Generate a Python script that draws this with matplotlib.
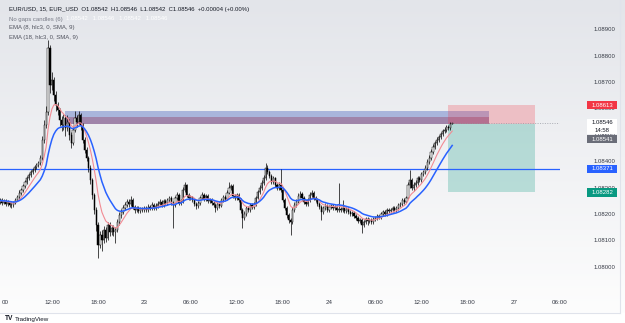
import numpy as np
import pandas as pd
import matplotlib
matplotlib.use("Agg")
import matplotlib.pyplot as plt
import matplotlib.transforms as mtransforms
from matplotlib.patches import Rectangle
from matplotlib.colors import LinearSegmentedColormap

plt.rcParams['font.family'] = ['Liberation Sans', 'DejaVu Sans']

# 15 minute candles, bar 0 = 22nd 06:00
first_bar = -3
first_open = 1.08246
closes = [
    1.08253, 1.08242, 1.08249, 1.08238, 1.08246, 1.08234, 1.08234, 1.08242, 1.08253, 1.08264,
    1.08280, 1.08291, 1.08306, 1.08321, 1.08336, 1.08348, 1.08359, 1.08367, 1.08378, 1.08386,
    1.08393, 1.08412, 1.08481, 1.08538, 1.08587, 1.08829, 1.08689, 1.08708, 1.08651, 1.08613,
    1.08594, 1.08556, 1.08538, 1.08564, 1.08526, 1.08549, 1.08500, 1.08469, 1.08519, 1.08564,
    1.08549, 1.08575, 1.08538, 1.08481, 1.08443, 1.08412, 1.08374, 1.08329, 1.08272, 1.08215,
    1.08158, 1.08082, 1.08120, 1.08101, 1.08139, 1.08109, 1.08158, 1.08132, 1.08147, 1.08132,
    1.08139, 1.08170, 1.08196, 1.08208, 1.08223, 1.08234, 1.08246, 1.08238, 1.08253, 1.08227,
    1.08215, 1.08223, 1.08211, 1.08219, 1.08215, 1.08223, 1.08215, 1.08227, 1.08223, 1.08234,
    1.08223, 1.08230, 1.08238, 1.08246, 1.08234, 1.08249, 1.08242, 1.08253, 1.08261, 1.08242,
    1.08234, 1.08261, 1.08272, 1.08242, 1.08249, 1.08291, 1.08310, 1.08272, 1.08261, 1.08264,
    1.08253, 1.08238, 1.08230, 1.08242, 1.08261, 1.08272, 1.08257, 1.08268, 1.08249, 1.08253,
    1.08242, 1.08234, 1.08223, 1.08238, 1.08230, 1.08253, 1.08264, 1.08257, 1.08280, 1.08298,
    1.08306, 1.08268, 1.08261, 1.08272, 1.08253, 1.08215, 1.08185, 1.08200, 1.08223, 1.08215,
    1.08234, 1.08227, 1.08238, 1.08261, 1.08283, 1.08298, 1.08318, 1.08336, 1.08374, 1.08359,
    1.08344, 1.08321, 1.08336, 1.08310, 1.08298, 1.08310, 1.08291, 1.08253, 1.08223, 1.08196,
    1.08177, 1.08170, 1.08215, 1.08234, 1.08246, 1.08268, 1.08276, 1.08261, 1.08246, 1.08238,
    1.08253, 1.08272, 1.08280, 1.08261, 1.08253, 1.08238, 1.08227, 1.08208, 1.08223, 1.08230,
    1.08215, 1.08227, 1.08230, 1.08223, 1.08227, 1.08215, 1.08219, 1.08215, 1.08223, 1.08211,
    1.08219, 1.08208, 1.08200, 1.08204, 1.08192, 1.08185, 1.08173, 1.08177, 1.08158, 1.08170,
    1.08181, 1.08173, 1.08177, 1.08170, 1.08181, 1.08185, 1.08192, 1.08189, 1.08200, 1.08208,
    1.08200, 1.08215, 1.08211, 1.08215, 1.08223, 1.08215, 1.08223, 1.08234, 1.08238, 1.08253,
    1.08246, 1.08261, 1.08310, 1.08329, 1.08298, 1.08310, 1.08318, 1.08336, 1.08329, 1.08352,
    1.08359, 1.08374, 1.08397, 1.08412, 1.08435, 1.08454, 1.08469, 1.08481, 1.08492, 1.08503,
    1.08515, 1.08519, 1.08530, 1.08526, 1.08542, 1.08546,
]
highs = [
    1.08262, 1.08260, 1.08257, 1.08255, 1.08253, 1.08250, 1.08244, 1.08250, 1.08261, 1.08272,
    1.08290, 1.08300, 1.08315, 1.08330, 1.08345, 1.08356, 1.08367, 1.08376, 1.08386, 1.08395,
    1.08402, 1.08424, 1.08496, 1.08556, 1.08610, 1.08859, 1.08840, 1.08740, 1.08720, 1.08665,
    1.08625, 1.08602, 1.08570, 1.08580, 1.08575, 1.08575, 1.08560, 1.08510, 1.08530, 1.08590,
    1.08575, 1.08590, 1.08583, 1.08545, 1.08490, 1.08452, 1.08420, 1.08385, 1.08337, 1.08280,
    1.08225, 1.08168, 1.08135, 1.08140, 1.08155, 1.08150, 1.08170, 1.08168, 1.08160, 1.08158,
    1.08150, 1.08180, 1.08206, 1.08220, 1.08235, 1.08245, 1.08258, 1.08255, 1.08268, 1.08260,
    1.08235, 1.08232, 1.08230, 1.08228, 1.08226, 1.08232, 1.08230, 1.08236, 1.08235, 1.08244,
    1.08242, 1.08240, 1.08248, 1.08256, 1.08254, 1.08258, 1.08257, 1.08262, 1.08270, 1.08268,
    1.08250, 1.08270, 1.08282, 1.08280, 1.08258, 1.08302, 1.08321, 1.08315, 1.08280, 1.08272,
    1.08270, 1.08260, 1.08245, 1.08250, 1.08270, 1.08282, 1.08278, 1.08276, 1.08274, 1.08262,
    1.08260, 1.08250, 1.08240, 1.08246, 1.08245, 1.08262, 1.08273, 1.08272, 1.08290, 1.08321,
    1.08315, 1.08312, 1.08275, 1.08280, 1.08278, 1.08260, 1.08222, 1.08210, 1.08232, 1.08230,
    1.08242, 1.08240, 1.08246, 1.08270, 1.08292, 1.08308, 1.08327, 1.08346, 1.08393, 1.08385,
    1.08366, 1.08350, 1.08345, 1.08342, 1.08318, 1.08320, 1.08371, 1.08298, 1.08260, 1.08230,
    1.08205, 1.08185, 1.08225, 1.08244, 1.08255, 1.08278, 1.08286, 1.08284, 1.08268, 1.08254,
    1.08262, 1.08282, 1.08290, 1.08287, 1.08268, 1.08260, 1.08245, 1.08235, 1.08232, 1.08240,
    1.08238, 1.08235, 1.08238, 1.08237, 1.08235, 1.08234, 1.08318, 1.08228, 1.08253, 1.08230,
    1.08226, 1.08225, 1.08215, 1.08212, 1.08210, 1.08200, 1.08192, 1.08185, 1.08184, 1.08178,
    1.08190, 1.08188, 1.08186, 1.08184, 1.08190, 1.08193, 1.08200, 1.08198, 1.08208, 1.08216,
    1.08215, 1.08224, 1.08222, 1.08223, 1.08231, 1.08230, 1.08232, 1.08242, 1.08247, 1.08262,
    1.08260, 1.08270, 1.08322, 1.08367, 1.08336, 1.08320, 1.08328, 1.08345, 1.08344, 1.08360,
    1.08368, 1.08384, 1.08407, 1.08422, 1.08445, 1.08464, 1.08478, 1.08490, 1.08500, 1.08512,
    1.08523, 1.08528, 1.08538, 1.08537, 1.08550, 1.08546,
]
lows = [
    1.08238, 1.08234, 1.08236, 1.08230, 1.08232, 1.08226, 1.08222, 1.08228, 1.08238, 1.08248,
    1.08258, 1.08272, 1.08285, 1.08300, 1.08314, 1.08328, 1.08341, 1.08350, 1.08360, 1.08371,
    1.08378, 1.08386, 1.08405, 1.08470, 1.08525, 1.08575, 1.08660, 1.08670, 1.08630, 1.08590,
    1.08575, 1.08535, 1.08515, 1.08520, 1.08495, 1.08515, 1.08480, 1.08450, 1.08460, 1.08510,
    1.08530, 1.08540, 1.08520, 1.08470, 1.08430, 1.08400, 1.08360, 1.08315, 1.08255, 1.08200,
    1.08135, 1.08033, 1.08070, 1.08060, 1.08090, 1.08095, 1.08100, 1.08115, 1.08120, 1.08118,
    1.08090, 1.08130, 1.08160, 1.08185, 1.08200, 1.08215, 1.08228, 1.08228, 1.08230, 1.08218,
    1.08205, 1.08208, 1.08203, 1.08204, 1.08206, 1.08208, 1.08207, 1.08208, 1.08214, 1.08216,
    1.08214, 1.08215, 1.08222, 1.08230, 1.08226, 1.08227, 1.08234, 1.08235, 1.08245, 1.08234,
    1.08147, 1.08226, 1.08253, 1.08234, 1.08235, 1.08242, 1.08284, 1.08265, 1.08252, 1.08253,
    1.08245, 1.08229, 1.08220, 1.08224, 1.08235, 1.08255, 1.08250, 1.08250, 1.08242, 1.08243,
    1.08235, 1.08226, 1.08208, 1.08216, 1.08222, 1.08225, 1.08247, 1.08250, 1.08252, 1.08274,
    1.08290, 1.08262, 1.08252, 1.08254, 1.08245, 1.08205, 1.08147, 1.08178, 1.08194, 1.08207,
    1.08208, 1.08220, 1.08220, 1.08232, 1.08255, 1.08276, 1.08290, 1.08310, 1.08330, 1.08350,
    1.08336, 1.08312, 1.08314, 1.08302, 1.08290, 1.08292, 1.08284, 1.08245, 1.08214, 1.08186,
    1.08165, 1.08120, 1.08162, 1.08208, 1.08228, 1.08240, 1.08260, 1.08254, 1.08238, 1.08230,
    1.08232, 1.08246, 1.08265, 1.08254, 1.08245, 1.08230, 1.08218, 1.08177, 1.08200, 1.08216,
    1.08208, 1.08208, 1.08220, 1.08215, 1.08216, 1.08207, 1.08208, 1.08206, 1.08208, 1.08203,
    1.08204, 1.08200, 1.08192, 1.08193, 1.08184, 1.08176, 1.08165, 1.08166, 1.08128, 1.08150,
    1.08163, 1.08160, 1.08166, 1.08162, 1.08163, 1.08175, 1.08178, 1.08182, 1.08182, 1.08193,
    1.08192, 1.08194, 1.08203, 1.08204, 1.08208, 1.08207, 1.08208, 1.08216, 1.08227, 1.08230,
    1.08238, 1.08240, 1.08255, 1.08300, 1.08290, 1.08288, 1.08302, 1.08310, 1.08320, 1.08322,
    1.08344, 1.08352, 1.08367, 1.08390, 1.08405, 1.08428, 1.08446, 1.08462, 1.08474, 1.08485,
    1.08496, 1.08508, 1.08512, 1.08518, 1.08520, 1.08542,
]

# time axis: hours after the 22nd 06:00
tick_hours = [0, 6, 12, 18, 24, 30, 36, 42, 48, 54, 60, 66, 72]
tick_labels = ["00", "12:00", "18:00", "23", "06:00", "12:00", "18:00", "24",
               "06:00", "12:00", "18:00", "27", "06:00"]
price_ticks = [1.080, 1.081, 1.082, 1.083, 1.084, 1.085, 1.086, 1.087, 1.088, 1.089]

level = 1.08371
zone_top, zone_mid, zone_bottom = 1.08590, 1.08568, 1.08541
zone_bars = (31, 251)
entry, stop, target = 1.08541, 1.08613, 1.08282
pos_bars = (230, 275)
last_price = 1.08546
countdown = "14:58"

header = "EUR/USD, 15, EUR_USD  O1.08542  H1.08546  L1.08542  C1.08546  +0.00004 (+0.00%)"
ema_fast_label = "EMA (8, hlc3, 0, SMA, 9)"
ema_slow_label = "EMA (18, hlc3, 0, SMA, 9)"

# ---- derived series
n = len(closes)
x = np.arange(first_bar, first_bar + n)
c = np.array(closes)
h = np.array(highs)
l = np.array(lows)
o = np.concatenate([[first_open], c[:-1]])
hlc3 = pd.Series((h + l + c) / 3)
ema_fast = hlc3.ewm(span=8, adjust=False).mean()
ema_slow = hlc3.ewm(span=18, adjust=False).mean()

W, H = 625, 323
fig = plt.figure(figsize=(W / 100, H / 100), dpi=100)

# background gradient
bg = fig.add_axes([0, 0, 1, 1])
grad_cmap = LinearSegmentedColormap.from_list("g", ["#fdfdfd", "#e3e5ea"])
grad = np.linspace(0, 1, 256).reshape(-1, 1)
bg.imshow(grad, aspect='auto', cmap=grad_cmap, extent=[0, 1, (323 - 313) / 323, 1], origin='lower')
bg.set_xlim(0, 1)
bg.set_ylim(0, 1)
bg.axis('off')
# frame lines
bg.plot([620 / W, 620 / W], [(323 - 313) / 323, 1], color='#e0e3eb', lw=0.8)
bg.plot([0, 620 / W], [(323 - 313) / 323] * 2, color='#e0e3eb', lw=0.8)

pane_bottom = 285
ax = fig.add_axes([0, (H - pane_bottom) / H, 560 / W, pane_bottom / H])
ax.set_facecolor('none')
ymax = 1.09011
px = 0.0000379
ax.set_ylim(ymax - pane_bottom * px, ymax)
bar_px = 1.929
x0 = 5.7
ax.set_xlim(-x0 / bar_px, (560 - x0) / bar_px)
for s in ax.spines.values():
    s.set_visible(False)

# zone
zx0, zx1 = zone_bars
ax.add_patch(Rectangle((zx0, zone_bottom), zx1 - zx0, zone_top - zone_bottom,
                       facecolor='#a9b5dc', edgecolor='none', zorder=1))
ax.add_patch(Rectangle((zx0, zone_bottom), zx1 - zx0, zone_mid - zone_bottom,
                       facecolor='#a084aa', edgecolor='none', zorder=1.1))

# position tool
px0, px1 = pos_bars
ax.add_patch(Rectangle((px0, entry), px1 - px0, stop - entry,
                       facecolor='#f23645', alpha=0.25, edgecolor='none', zorder=1.2))
ax.add_patch(Rectangle((px0, target), px1 - px0, entry - target,
                       facecolor='#089981', alpha=0.25, edgecolor='none', zorder=1.2))

# level line
ax.axhline(level, color='#2962ff', lw=0.9, zorder=2)

# candles
up = c >= o
ax.vlines(x, l, h, color='#000000', lw=0.5, zorder=3)
body_lo = np.minimum(o, c)
body_h = np.maximum(np.abs(c - o), 0.000015)
ax.bar(x[up], body_h[up], bottom=body_lo[up], width=0.62, color='#ffffff',
       edgecolor='#000000', linewidth=0.35, zorder=4)
ax.bar(x[~up], body_h[~up], bottom=body_lo[~up], width=0.62, color='#000000',
       edgecolor='#000000', linewidth=0.35, zorder=4)

# emas
ax.plot(x, ema_fast, color='#f28b94', lw=0.8, zorder=5)
ax.plot(x, ema_slow, color='#2962ff', lw=1.1, zorder=5)

# last price dotted line
ax.plot([x[-1], ax.get_xlim()[1]], [last_price, last_price], color='#9598a1',
        lw=0.5, ls=(0, (1.5, 2)), zorder=2)

# pane bottom dotted line
ax.axhline(ax.get_ylim()[0], color='#d1d4dc', lw=0.6, ls=(0, (1, 1.5)))

# price axis
ax.yaxis.tick_right()
ax.set_yticks(price_ticks)
ax.set_yticklabels(["%.5f" % p for p in price_ticks])
ax.tick_params(axis='y', length=0, pad=23.8, labelsize=4.3, labelcolor='#363a45')

# time axis
ax.set_xticks([hr * 4 for hr in tick_hours])
ax.set_xticklabels(tick_labels)
ax.tick_params(axis='x', length=0, pad=11, labelsize=4.5, labelcolor='#363a45')

# price labels
tr = mtransforms.blended_transform_factory(ax.transAxes, ax.transData)
bx0 = 587 / 560
bw = 30 / 560
bh = 8.5 * px


def price_box(y, text, fc, tc='white'):
    ax.add_patch(Rectangle((bx0, y - bh / 2), bw, bh, transform=tr, facecolor=fc,
                           edgecolor='none', clip_on=False, zorder=10))
    ax.text(bx0 + bw / 2, y, text, transform=tr, ha='center', va='center',
            fontsize=4.3, color=tc, clip_on=False, zorder=11)


price_box(stop, "%.5f" % stop, '#f23645')
# last price box with countdown
ax.add_patch(Rectangle((bx0, last_price - 11.5 * px), bw, 15.5 * px, transform=tr,
                       facecolor='#ffffff', edgecolor='none', clip_on=False, zorder=10))
ax.text(bx0 + bw / 2, last_price, "%.5f" % last_price, transform=tr, ha='center',
        va='center', fontsize=4.3, color='#131722', clip_on=False, zorder=11)
ax.text(bx0 + bw / 2, last_price - 8 * px, countdown, transform=tr, ha='center',
        va='center', fontsize=4.3, color='#131722', clip_on=False, zorder=11)
price_box(entry - 15 * px, "%.5f" % entry, '#6a6d78')
price_box(level, "%.5f" % level, '#2962ff')
price_box(target, "%.5f" % target, '#089981')

# legend texts
fig.text(9 / W, 1 - 9 / H, header, fontsize=4.3, color='#131722', va='center')
fig.text(9 / W, 1 - 19 / H, "No gaps candles (6)", fontsize=4.3, color='#787b86', va='center')
fig.text(66 / W, 1 - 19 / H, "1.08542   1.08546   1.08542   1.08546", fontsize=4.3,
         color='#ffffff', va='center')
fig.text(9 / W, 1 - 28 / H, ema_fast_label, fontsize=4.3, color='#50535e', va='center')
fig.text(9 / W, 1 - 37 / H, ema_slow_label, fontsize=4.3, color='#50535e', va='center')

# watermark
fig.text(5 / W, 1 - 319 / H, "TV", fontsize=4.8, weight='bold', color='#131722', va='center')
fig.text(15 / W, 1 - 319 / H, "TradingView", fontsize=4.5, color='#131722', va='center')

fig.savefig('out.png', dpi=100)
